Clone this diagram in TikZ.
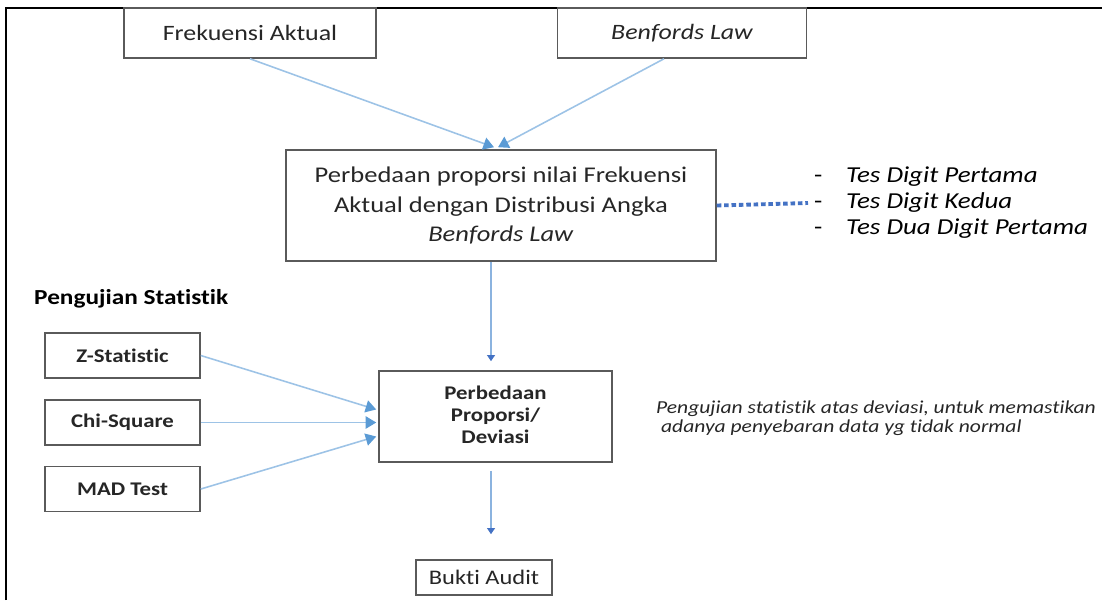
\documentclass[tikz,border=0pt]{standalone}
\usepackage{fontspec}
\setmainfont{Carlito}[FakeStretch=1.18, Ligatures=NoCommon]
\usetikzlibrary{arrows.meta, positioning, calc}
\definecolor{lnblue}{HTML}{9DC3E6}
\definecolor{tipblue}{HTML}{5B9BD5}
\definecolor{dkblue}{HTML}{4472C4}
\definecolor{boxgray}{HTML}{5A5A5A}
\definecolor{txtgray}{HTML}{262626}
\tikzset{
  wbox/.style={draw=boxgray, fill=white, line width=0.9pt, inner sep=3pt,
               align=center, text=txtgray},
  sbox/.style={wbox, minimum width=3.1cm, minimum height=0.9cm,
               font=\fontsize{11}{13}\selectfont\bfseries},
  arr/.style={-{Triangle[length=6pt, width=7pt, color=tipblue]}, draw=lnblue, line width=0.9pt},
  varr/.style={-{Triangle[length=3.5pt, width=4.5pt, color=dkblue]}, draw=lnblue!80!dkblue, line width=0.7pt},
  dotln/.style={draw=dkblue, line width=2.2pt, dash pattern=on 2.6pt off 1.6pt},
  frame/.style={draw=black, line width=1.2pt},
}
\begin{document}
\begin{tikzpicture}[x=0.02cm, y=-0.02cm]
    \useasboundingbox (0,0) rectangle (1102,600);
    \draw[frame] (6,600) -- (6,8) -- (1102,8);

    \node[wbox, minimum width=5.04cm, minimum height=1cm, font=\fontsize{12.5}{15}\selectfont] (fa) at (250,33) {Frekuensi Aktual};
    \node[wbox, minimum width=4.98cm, minimum height=1cm, font=\fontsize{12.5}{15}\selectfont\itshape] (bl) at (682,33) {Benfords Law};
    \node[wbox, minimum width=8.6cm, minimum height=2.22cm, font=\fontsize{12.8}{17}\selectfont] (pb) at (501,205.5)
      {Perbedaan proporsi nilai Frekuensi\\Aktual dengan Distribusi Angka\\\textit{Benfords Law}};
    \node[anchor=west, align=left, text=black, font=\fontsize{13}{14.8}\selectfont\itshape] (tests) at (808,203)
      {\makebox[0.64cm][l]{\upshape -}Tes Digit Pertama\\\makebox[0.64cm][l]{\upshape -}Tes Digit Kedua\\\makebox[0.64cm][l]{\upshape -}Tes Dua Digit Pertama};

    \node[anchor=west, text=black, font=\fontsize{12.2}{14}\selectfont\bfseries] (ps) at (28,299) {Pengujian Statistik};
    \node[sbox] (zs) at (122.5,355.5) {Z-Statistic};
    \node[sbox] (cs) at (122.5,422.5) {Chi-Square};
    \node[sbox] (mad) at (122.5,489) {MAD Test};

    \node[wbox, minimum width=4.66cm, minimum height=1.82cm, font=\fontsize{11}{12.6}\selectfont\bfseries] (pd) at (495.5,416.5)
      {Perbedaan\\Proporsi/\\Deviasi\vphantom{g}};
    \node[anchor=west, align=left, text=txtgray, font=\fontsize{10.4}{11}\selectfont\itshape] (note) at (650,418)
      {Pengujian statistik atas deviasi, untuk memastikan\\\ adanya penyebaran data yg tidak normal};

    \node[wbox, minimum width=2.72cm, minimum height=0.7cm, font=\fontsize{11.8}{15}\selectfont] (ba) at (484,577.5) {Bukti Audit};

    % arrows
    \draw[arr] (fa.south) -- ($(pb.north)+(-7,-2)$);
    \draw[arr] ($(bl.south)+(-18,0)$) -- ($(pb.north)+(-3,-2)$);
    \draw[dotln] (pb.east) -- (tests.west);
    \draw[varr] ($(pb.south)+(-10,0)$) -- ($(pd.north)+(-4.5,-9)$);
    \draw[arr] (zs.east) -- ($(pd.west)+(-2,-7)$);
    \draw[arr] (cs.east) -- ($(pd.west)+(-2,6)$);
    \draw[arr] (mad.east) -- ($(pd.west)+(-2,20)$);
    \draw[varr] ($(pd.south)+(-4.5,8)$) -- ($(ba.north)+(7,-25)$);
\end{tikzpicture}
\end{document}
